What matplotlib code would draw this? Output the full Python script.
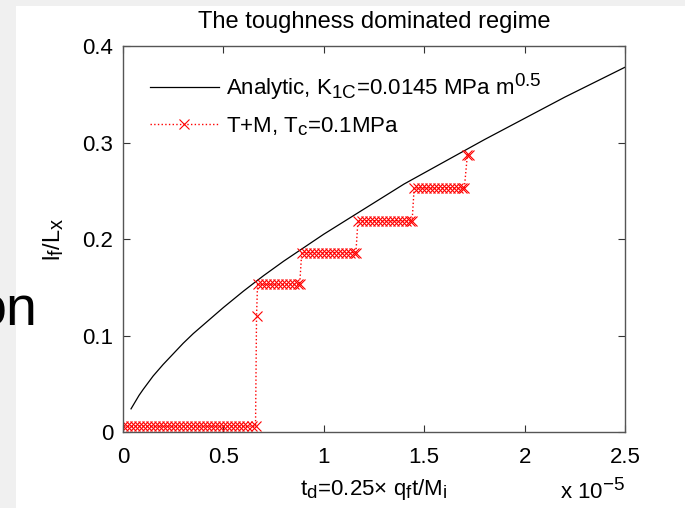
import matplotlib
matplotlib.use('Agg')
import matplotlib.pyplot as plt
import matplotlib._mathtext as mt
from matplotlib.patches import Rectangle

plt.rcParams['font.family'] = ['Liberation Sans', 'DejaVu Sans']
plt.rcParams['mathtext.default'] = 'regular'
# MATLAB-style sub/superscripts are only a little smaller than the text
mt.SHRINK_FACTOR = 0.85

# analytic curve (x in units of 1e-5)
t_an = [0.04, 0.06, 0.08, 0.1, 0.15, 0.2, 0.25, 0.3, 0.35, 0.4, 0.5, 0.6,
        0.7, 0.8, 0.9, 1.0, 1.2, 1.4, 1.6, 1.8, 2.0, 2.2, 2.5]
l_an = [0.024, 0.031, 0.038, 0.044, 0.058, 0.070, 0.081, 0.092, 0.102,
        0.111, 0.129, 0.146, 0.162, 0.177, 0.191, 0.205, 0.231, 0.257,
        0.280, 0.303, 0.325, 0.347, 0.378]

# T+M simulation, steps
t0 = [0.00, 0.02, 0.04, 0.06, 0.08, 0.10, 0.12, 0.14, 0.16, 0.18, 0.20,
      0.22, 0.24, 0.26, 0.28, 0.30, 0.32, 0.34, 0.36, 0.38, 0.40, 0.42,
      0.44, 0.46, 0.48, 0.50, 0.52, 0.54, 0.56, 0.58, 0.60, 0.62, 0.64, 0.66]
y0 = 0.006
t_jump = [0.665]
y_jump = [0.120]
t1 = [0.67, 0.69, 0.71, 0.73, 0.75, 0.77, 0.79, 0.81, 0.83, 0.85, 0.87, 0.88]
y1 = 0.153
t2 = [0.89, 0.91, 0.93, 0.95, 0.97, 0.99, 1.01, 1.03, 1.05, 1.07, 1.09,
      1.11, 1.13, 1.15, 1.16]
y2 = 0.186
t3 = [1.17, 1.19, 1.21, 1.23, 1.25, 1.27, 1.29, 1.31, 1.33, 1.35, 1.37,
      1.39, 1.41, 1.43, 1.44]
y3 = 0.219
t4 = [1.45, 1.47, 1.49, 1.51, 1.53, 1.55, 1.57, 1.59, 1.61, 1.63, 1.65,
      1.67, 1.69, 1.70]
y4 = 0.253
t_last = [1.715, 1.725]
y_last = [0.287, 0.287]

t_sim = [0.0] + t0 + t_jump + t1 + t2 + t3 + t4 + t_last
l_sim = ([0.02] + [y0] * len(t0) + y_jump + [y1] * len(t1) + [y2] * len(t2)
         + [y3] * len(t3) + [y4] * len(t4) + y_last)

fig = plt.figure(figsize=(6.85, 5.08), dpi=100)
fig.patch.set_facecolor('#f0f0f0')
fig.add_artist(Rectangle((16 / 685, 0), 1, 502 / 508, transform=fig.transFigure,
                         facecolor='white', edgecolor='none', zorder=-5))
fig.text(38 / 685, 183 / 508, 'on', fontsize=40, ha='right', va='baseline',
         color='black')

ax = fig.add_axes([123 / 685, 76 / 508, 502 / 685, 386 / 508])
ax.plot(t_an, l_an, color='black', lw=0.9,
        label='Analytic, $K_{1C}$=0.0145 MPa $m^{0.5}$')
ax.plot(t_sim, l_sim, color='red', linestyle=':', lw=1, marker='x',
        markersize=7, markeredgewidth=0.8, markevery=list(range(1, len(t_sim))),
        label='T+M, $T_c$=0.1MPa')

ax.set_xlim(0, 2.5)
ax.set_ylim(0, 0.4)
ax.set_xticks([0, 0.5, 1, 1.5, 2, 2.5])
ax.set_xticklabels(['0', '0.5', '1', '1.5', '2', '2.5'])
ax.set_yticks([0, 0.1, 0.2, 0.3, 0.4])
ax.set_yticklabels(['0', '0.1', '0.2', '0.3', '0.4'])
ax.tick_params(direction='in', length=5, width=0.8, labelsize=16, top=True,
               right=True, colors='#333333', labelcolor='black')
ax.tick_params(axis='x', pad=11)
ax.tick_params(axis='y', pad=7)
for s in ax.spines.values():
    s.set_color('#555555')
    s.set_linewidth(1)

ax.set_title('The toughness dominated regime', fontsize=17, pad=13)
ax.set_xlabel('$t_d$=0.25× $q_f t/M_i$', fontsize=16, labelpad=6)
ax.set_ylabel('$l_f/L_x$', fontsize=17, labelpad=12)
fig.text(625 / 685, 9 / 508, 'x $10^{-5}$', fontsize=16, ha='right',
         va='baseline')

ax.legend(loc='upper left', bbox_to_anchor=(27 / 502, 0.935), frameon=False,
          fontsize=16, handlelength=3.1, handletextpad=0.3, borderpad=0,
          borderaxespad=0, labelspacing=0.6)

fig.savefig('out.png', dpi=100, facecolor=fig.get_facecolor())
